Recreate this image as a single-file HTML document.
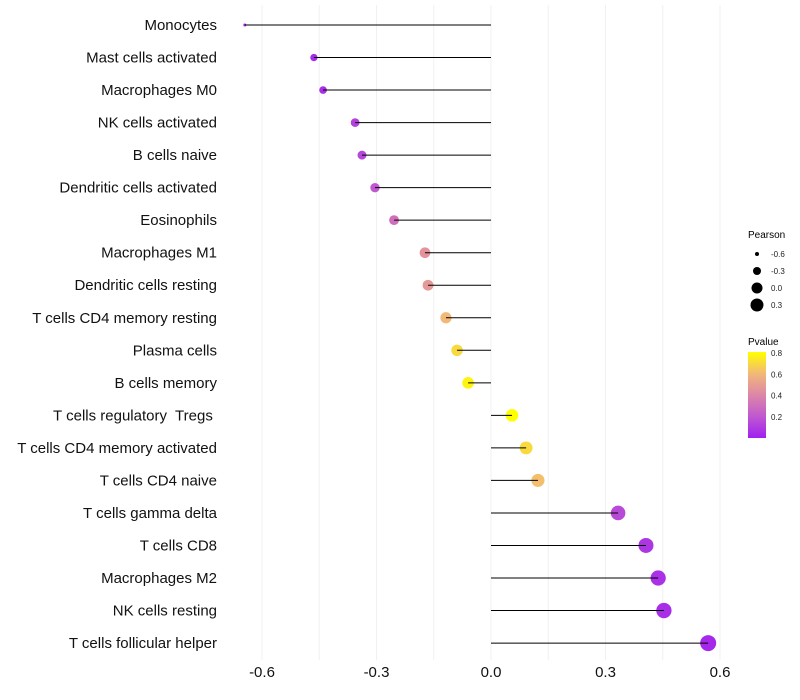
<!DOCTYPE html>
<html><head><meta charset="utf-8"><style>
body{margin:0;background:#fff;}
svg{display:block;font-family:"Liberation Sans",sans-serif;}
text{white-space:pre;}
</style></head><body>
<svg id="chart" width="800" height="700" viewBox="0 0 800 700">
<g id="grid"></g>
<g id="marks"></g>
<g id="ylabels"></g>
<g id="xlabels"></g>
<g id="legend">
<text x="748" y="238" font-size="10">Pearson</text>
<text x="748" y="345" font-size="10">Pvalue</text>
<defs><linearGradient id="pg" x1="0" y1="1" x2="0" y2="0">
<stop offset="0" stop-color="#A020F0"/><stop offset="0.25" stop-color="#C058D0"/><stop offset="0.5" stop-color="#DD86A8"/><stop offset="0.75" stop-color="#F2B878"/><stop offset="1" stop-color="#FFFF00"/></linearGradient></defs>
<rect x="748" y="352" width="18" height="86" fill="url(#pg)"/>
</g>
</svg>
<script>
const categories=["Monocytes","Mast cells activated","Macrophages M0","NK cells activated","B cells naive","Dendritic cells activated","Eosinophils","Macrophages M1","Dendritic cells resting","T cells CD4 memory resting","Plasma cells","B cells memory","T cells regulatory  Tregs ","T cells CD4 memory activated","T cells CD4 naive","T cells gamma delta","T cells CD8","Macrophages M2","NK cells resting","T cells follicular helper"];
const pearson=[-0.645,-0.464,-0.44,-0.356,-0.338,-0.304,-0.254,-0.173,-0.165,-0.118,-0.089,-0.06,0.055,0.092,0.123,0.333,0.406,0.438,0.453,0.569];
const pvalue=[0.02,0.04,0.05,0.12,0.14,0.2,0.3,0.45,0.47,0.6,0.7,0.78,0.81,0.7,0.62,0.15,0.08,0.06,0.05,0.03];
const xTicks=[-0.6,-0.3,0.0,0.3,0.6];
const sizeLegend=[-0.6,-0.3,0.0,0.3];
const colorTicks=[0.2,0.4,0.6,0.8];
const NS="http://www.w3.org/2000/svg";
const x=v=>491+v*381.67;
const y=i=>25+i*32.53;
const minV=-0.645,maxV=0.569;
const r=v=>{const t=(v-minV)/(maxV-minV);return Math.sqrt(2.25+t*(64-2.25)+ (t>0?6*Math.sqrt(t)*(1-t):0));};
const stops=[[0,[160,32,240]],[0.2,[192,88,208]],[0.4,[221,134,168]],[0.6,[242,184,120]],[0.81,[255,255,0]]];
function col(p){p=Math.max(0,Math.min(0.81,p));for(let k=1;k<stops.length;k++){if(p<=stops[k][0]){const a=stops[k-1],b=stops[k],t=(p-a[0])/(b[0]-a[0]);const c=a[1].map((u,j)=>Math.round(u+(b[1][j]-u)*t));return `rgb(${c})`;}}return "rgb(255,255,0)";}
function mk(tag,at,parent){const e=document.createElementNS(NS,tag);for(const k in at)e.setAttribute(k,at[k]);document.getElementById(parent).appendChild(e);return e;}
for(let v=-0.6;v<=0.61;v+=0.15){const g=mk("line",{x1:x(v),x2:x(v),y1:5,y2:660,stroke:"#f0f0f0","stroke-width":1},"grid");

}
categories.forEach((c,i)=>{
const d=mk("circle",{cx:x(pearson[i]),cy:y(i),r:r(pearson[i]),fill:col(pvalue[i])},"marks");


const l=mk("line",{x1:x(0),x2:x(pearson[i]),y1:y(i),y2:y(i),stroke:"#000","stroke-width":1},"marks");


const t=mk("text",{x:217,y:y(i)+5,"text-anchor":"end","font-size":15,fill:"#111"},"ylabels");
t.textContent=c;


});
xTicks.forEach(v=>{const t=mk("text",{x:x(v),y:677,"text-anchor":"middle","font-size":15,fill:"#111"},"xlabels");
t.textContent=v.toFixed(1);

});
sizeLegend.forEach((v,i)=>{const cy=254+i*17;
const c=mk("circle",{cx:757,cy:cy,r:[2,4,5.5,6.5][i],fill:"#000"},"legend");


const t=mk("text",{x:771,y:cy+3,"font-size":8,fill:"#222"},"legend");
t.textContent=v.toFixed(1);

});
colorTicks.forEach(v=>{const yy=438-v/0.81*86;
const t=mk("text",{x:771,y:yy+3,"font-size":8,fill:"#222"},"legend");
t.textContent=v.toFixed(1);

});
</script>
</body></html>
